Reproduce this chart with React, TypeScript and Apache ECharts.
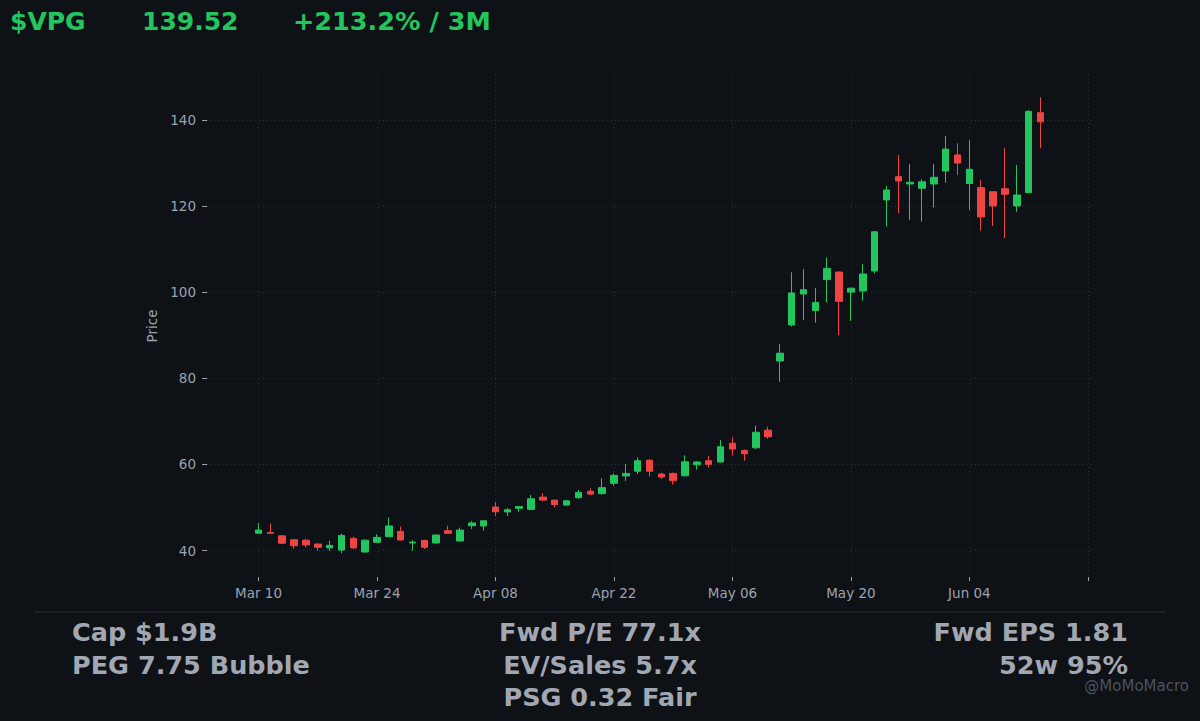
import { useEffect, useRef } from "react";
import * as echarts from "echarts";

const ticker = "$VPG";
const lastPrice = "139.52";
const change = "+213.2% / 3M";

const dates = [
  "Mar 10", "Mar 11", "Mar 12", "Mar 13", "Mar 16", "Mar 17", "Mar 18", "Mar 19", "Mar 20", "Mar 23",
  "Mar 24", "Mar 25", "Mar 26", "Mar 27", "Mar 30", "Mar 31", "Apr 01", "Apr 02", "Apr 06", "Apr 07",
  "Apr 08", "Apr 09", "Apr 10", "Apr 13", "Apr 14", "Apr 15", "Apr 16", "Apr 17", "Apr 20", "Apr 21",
  "Apr 22", "Apr 23", "Apr 24", "Apr 27", "Apr 28", "Apr 29", "Apr 30", "May 01", "May 04", "May 05",
  "May 06", "May 07", "May 08", "May 11", "May 12", "May 13", "May 14", "May 15", "May 18", "May 19",
  "May 20", "May 21", "May 22", "May 26", "May 27", "May 28", "May 29", "Jun 01", "Jun 02", "Jun 03",
  "Jun 04", "Jun 05", "Jun 08", "Jun 09", "Jun 10", "Jun 11", "Jun 12",
];

const opens = [
  44.0, 44.2, 43.4, 42.5, 42.4, 41.5, 40.6, 40.1, 42.8, 39.65,
  41.9, 43.2, 44.45, 41.75, 42.35, 41.75, 44.6, 42.2, 45.75, 45.7,
  50.1, 48.95, 49.8, 49.55, 52.4, 51.7, 50.55, 52.25, 53.75, 53.2,
  55.6, 57.3, 58.4, 60.95, 57.75, 57.9, 57.35, 59.9, 60.85, 60.55,
  64.9, 63.25, 63.85, 67.95, 84.0, 92.35, 99.55, 95.7, 102.9, 104.65,
  100.0, 100.25, 104.9, 121.4, 126.8, 125.1, 124.1, 125.1, 128.1, 131.85,
  125.2, 124.25, 123.3, 124.0, 120.0, 123.1, 141.65,
];
const closes = [
  44.75, 44.0, 41.7, 41.1, 41.3, 40.75, 41.2, 43.5, 40.6, 42.4,
  43.05, 45.7, 42.45, 41.95, 40.75, 43.6, 44.0, 44.75, 46.4, 46.9,
  49.0, 49.45, 50.2, 52.0, 51.7, 50.65, 51.55, 53.5, 53.1, 54.6,
  57.45, 57.9, 60.85, 58.4, 57.05, 56.2, 60.6, 60.55, 60.0, 64.1,
  63.55, 62.45, 67.45, 66.4, 85.8, 99.8, 100.55, 97.6, 105.5, 97.85,
  100.9, 104.2, 114.0, 123.7, 125.8, 125.5, 125.6, 126.65, 133.2, 129.95,
  128.5, 117.45, 120.0, 122.7, 122.55, 141.95, 139.52,
];
const lows = [
  43.9, 43.95, 41.5, 40.4, 40.7, 39.95, 39.9, 39.35, 40.3, 39.6,
  41.8, 43.1, 42.3, 39.95, 40.35, 41.6, 43.9, 42.1, 45.0, 44.6,
  48.0, 48.0, 48.95, 49.5, 51.5, 50.0, 50.4, 52.1, 52.9, 53.0,
  55.0, 56.15, 57.75, 57.15, 56.6, 55.3, 57.2, 58.75, 59.3, 60.4,
  62.1, 60.85, 63.5, 65.95, 79.2, 92.0, 93.5, 92.9, 97.6, 90.0,
  93.3, 98.0, 104.35, 115.2, 118.3, 116.75, 116.35, 119.6, 125.4, 127.2,
  119.05, 114.25, 115.35, 112.5, 118.65, 122.9, 133.4,
];
const highs = [
  46.4, 46.3, 43.6, 42.7, 42.7, 41.7, 42.3, 43.85, 43.2, 42.6,
  43.8, 47.7, 45.6, 42.4, 42.5, 43.7, 45.75, 45.3, 46.8, 47.0,
  51.25, 49.9, 50.3, 52.9, 53.3, 51.8, 51.7, 54.05, 54.45, 56.75,
  57.9, 60.1, 61.6, 61.2, 58.0, 58.1, 62.1, 60.8, 61.95, 65.65,
  66.3, 63.4, 69.0, 68.75, 87.9, 104.6, 105.35, 100.95, 108.05, 104.8,
  101.0, 106.5, 114.2, 124.7, 131.8, 129.75, 126.2, 129.75, 136.25, 134.55,
  135.25, 126.0, 123.4, 133.4, 129.5, 142.25, 145.2,
];

const yTicks = [40, 60, 80, 100, 120, 140];
const xTickIdx = [0, 10, 20, 30, 40, 50, 60, 70];
const xLabelIdx = [0, 10, 20, 30, 40, 50, 60];

const footerLeft = ["Cap $1.9B", "PEG 7.75 Bubble"];
const footerMid = ["Fwd P/E 77.1x", "EV/Sales 5.7x", "PSG 0.32 Fair"];
const footerRight = ["Fwd EPS 1.81", "52w 95%"];
const watermark = "@MoMoMacro";

const BG = "#0e1116";
const UP = "#22c55e";
const DOWN = "#ef4444";
const GRAY = "#9ca3af";
const FOOT = "#a1a7b3";
const FONT = '"DejaVu Sans", "Liberation Sans", sans-serif';

function txt(text: string, x: number, y: number, align: string, font: string, fill: string) {
  return {
    type: "text",
    x,
    y,
    silent: true,
    style: {
      text,
      fill,
      font,
      align,
      textAlign: align,
      verticalAlign: "middle",
      textVerticalAlign: "middle",
    },
  };
}

export default function App() {
  const ref = useRef<HTMLDivElement>(null);

  useEffect(() => {
    if (!ref.current) return;
    const chart = echarts.init(ref.current, null, { renderer: "svg" });
    const candles = dates.map((_, i) => [i, opens[i], closes[i], lows[i], highs[i]]);
    const bigFont = `bold 25px ${FONT}`;
    const footFont = `bold 25.5px ${FONT}`;
    const lineYs = [632, 664.5, 697];

    const graphics: any[] = [
      txt(ticker, 10, 21, "left", bigFont, UP),
      txt(lastPrice, 142, 21, "left", bigFont, UP),
      txt(change, 293, 21, "left", `bold 25.5px ${FONT}`, UP),
      {
        type: "line",
        silent: true,
        shape: { x1: 35, y1: 612, x2: 1165, y2: 612 },
        style: { stroke: "#2a2f3a", lineWidth: 1 },
      },
      ...footerLeft.map((t, i) => txt(t, 72, lineYs[i], "left", footFont, FOOT)),
      ...footerMid.map((t, i) => txt(t, 600, lineYs[i], "center", footFont, FOOT)),
      ...footerRight.map((t, i) => txt(t, 1128, lineYs[i], "right", footFont, FOOT)),
      txt(watermark, 1189, 686, "right", `15px ${FONT}`, "#4b5261"),
    ];

    chart.setOption({
      animation: false,
      backgroundColor: BG,
      textStyle: { fontFamily: FONT },
      grid: { left: 207, right: 108, top: 75, bottom: 144, containLabel: false },
      xAxis: {
        type: "value",
        min: -4.35,
        max: 70.35,
        interval: 10,
        axisLine: { show: false, onZero: false },
        axisTick: {
          show: true,
          length: 4,
          customValues: xTickIdx,
          lineStyle: { color: GRAY, width: 1 },
        },
        axisLabel: {
          customValues: xLabelIdx,
          margin: 9,
          color: GRAY,
          fontSize: 13.5,
          fontFamily: FONT,
          formatter: (v: number) => dates[Math.round(v)] ?? "",
        },
        splitLine: {
          show: true,
          lineStyle: { color: "#2a2f38", type: [1, 3], width: 1 },
        },
      },
      yAxis: {
        type: "value",
        min: 33.85,
        max: 150.4,
        interval: 20,
        name: "Price",
        nameLocation: "middle",
        nameGap: 44,
        nameRotate: 90,
        nameTextStyle: { color: GRAY, fontSize: 13.5, fontFamily: FONT },
        axisLine: { show: false, onZero: false },
        axisTick: {
          show: true,
          length: 5,
          customValues: yTicks,
          lineStyle: { color: GRAY, width: 1 },
        },
        axisLabel: {
          customValues: yTicks,
          margin: 11,
          color: GRAY,
          fontSize: 13.5,
          fontFamily: FONT,
        },
        splitLine: {
          show: true,
          lineStyle: { color: "#2a2f38", type: [1, 3], width: 1 },
        },
      },
      series: [
        {
          type: "candlestick",
          data: candles,
          encode: { x: 0, y: [1, 2, 3, 4] },
          barWidth: 7,
          clip: false,
          itemStyle: {
            color: UP,
            color0: DOWN,
            borderColor: UP,
            borderColor0: DOWN,
            borderWidth: 1,
          },
        },
      ],
      graphic: { elements: graphics },
    });

    return () => chart.dispose();
  }, []);

  return (
    <div
      ref={ref}
      style={{ position: "fixed", left: 0, top: 0, width: 1200, height: 721, background: BG }}
    />
  );
}
